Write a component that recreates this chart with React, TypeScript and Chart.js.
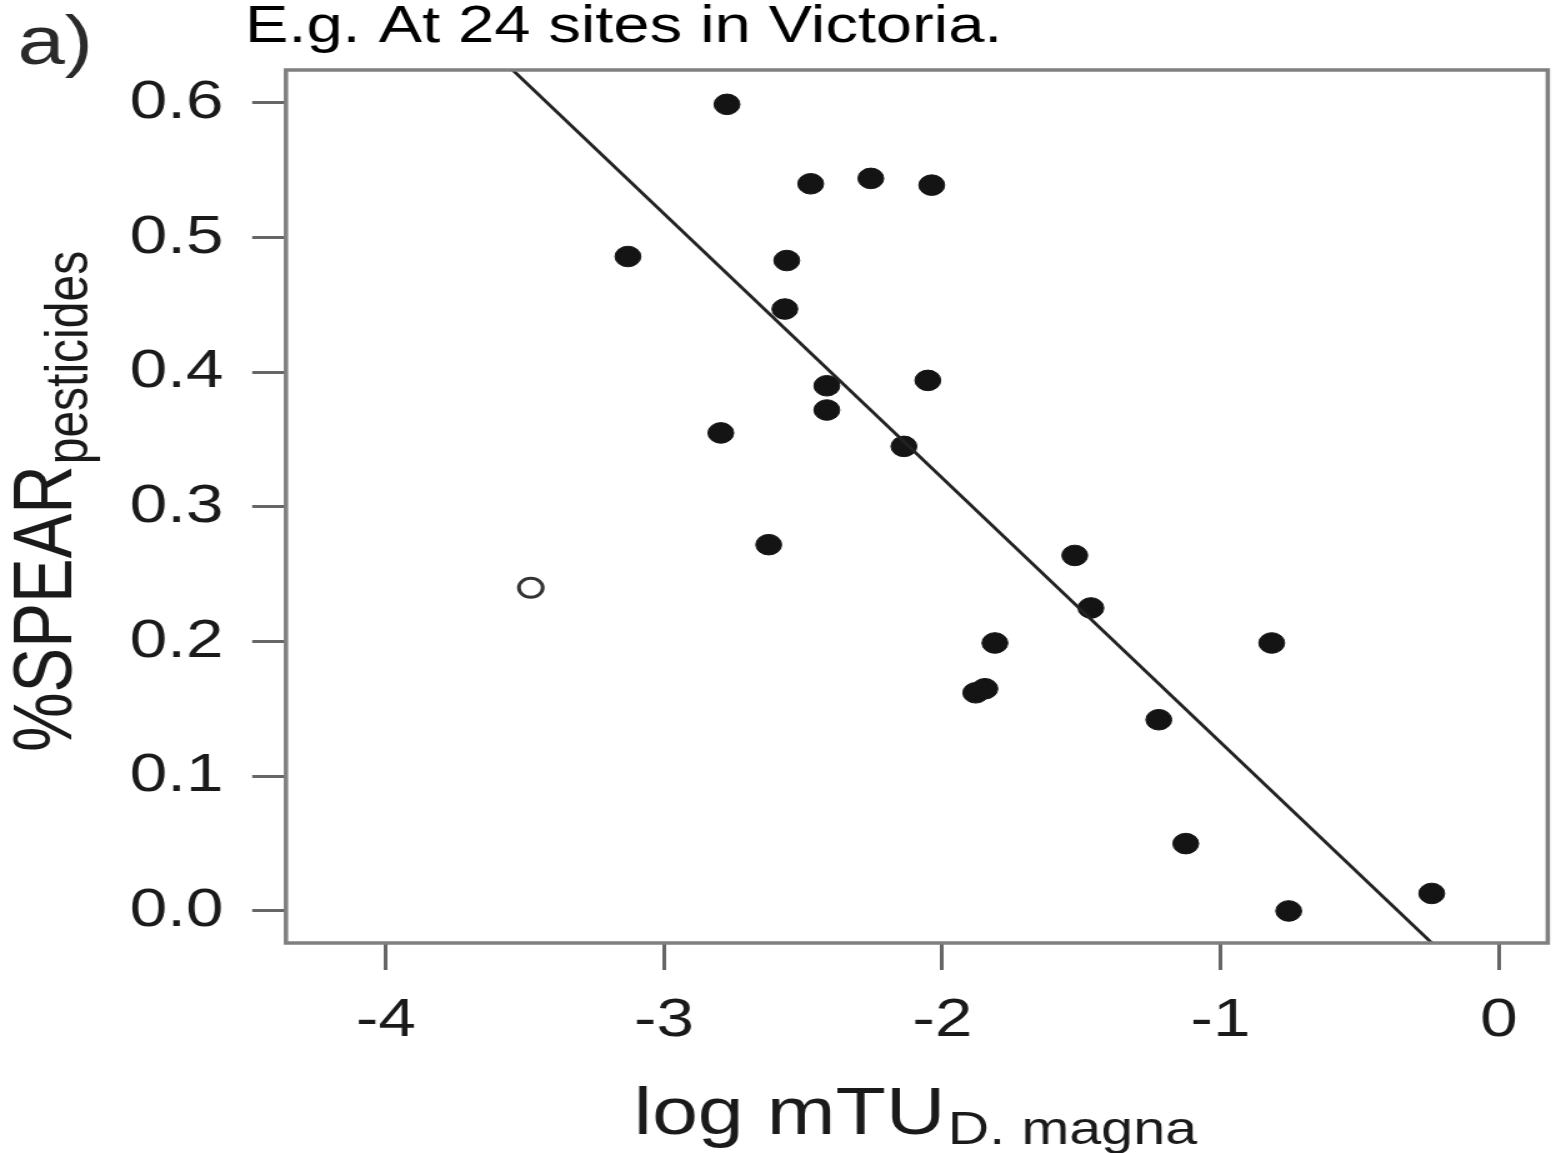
import React, { useEffect, useRef } from "react";
import { Chart, registerables } from "chart.js";

Chart.register(...registerables);

// Horizontal stretch of the original figure
const STRETCH = 1.25;
const CSS_W = 1556;
const CSS_H = 1153;
const W = Math.round(CSS_W / STRETCH);
const H = CSS_H;

// Sites (filled points)
const siteX = [
  -2.774, -3.13, -2.473, -2.257, -2.038, -2.559, -2.566, -2.415, -2.415, -2.052,
  -2.796, -2.138, -2.624, -1.524, -1.466, -1.811, -1.88, -1.847, -0.816, -1.222,
  -1.125, -0.755, -0.241,
];
const siteY = [
  0.599, 0.486, 0.54, 0.544, 0.539, 0.483, 0.447, 0.39, 0.372, 0.394,
  0.355, 0.345, 0.272, 0.264, 0.225, 0.199, 0.162, 0.165, 0.199, 0.142,
  0.05, 0.0, 0.013,
];
// Excluded site (open point)
const outlierX = [-3.479];
const outlierY = [0.24];
// Regression line end points
const fitX = [-3.544, -0.241];
const fitY = [0.6245, -0.0238];

const xTicks = [-4, -3, -2, -1, 0];
const xTickLabels = ["-4", "-3", "-2", "-1", "0"];
const yTicks = [0, 0.1, 0.2, 0.3, 0.4, 0.5, 0.6];
const yTickLabels = ["0.0", "0.1", "0.2", "0.3", "0.4", "0.5", "0.6"];

const X_MIN = -4.359;
const X_MAX = 0.176;
const Y_MIN = -0.0238;
const Y_MAX = 0.6245;

const FONT = '"Liberation Sans", Arial, Helvetica, sans-serif';

const textPlugin = {
  id: "figureText",
  afterDraw(chart: any) {
    const ctx: CanvasRenderingContext2D = chart.ctx;
    const ca = chart.chartArea;
    ctx.save();
    // box
    ctx.strokeStyle = "#808080";
    ctx.lineWidth = 3.5;
    ctx.strokeRect(ca.left, ca.top, ca.right - ca.left, ca.bottom - ca.top);

    ctx.textBaseline = "alphabetic";
    ctx.textAlign = "left";
    // title
    ctx.fillStyle = "#000";
    ctx.font = `52px ${FONT}`;
    ctx.fillText("E.g. At 24 sites in Victoria.", 196, 42);
    // panel label
    ctx.fillStyle = "#2a2a2a";
    ctx.font = `68px ${FONT}`;
    ctx.fillText("a)", 14, 64);

    // x axis title
    ctx.fillStyle = "#1a1a1a";
    ctx.font = `66px ${FONT}`;
    const main = "log mTU";
    const mx = 507;
    ctx.fillText(main, mx, 1134);
    const mw = ctx.measureText(main).width;
    ctx.font = `46px ${FONT}`;
    ctx.fillText("D. magna", mx + mw + 2, 1144);

    // y axis title
    ctx.save();
    ctx.translate(57, 752);
    ctx.rotate(-Math.PI / 2);
    ctx.font = `67px ${FONT}`;
    const ym = "%SPEAR";
    ctx.fillText(ym, 0, 0);
    const yw = ctx.measureText(ym).width;
    ctx.font = `48px ${FONT}`;
    ctx.fillText("pesticides", yw + 1, 13);
    ctx.restore();

    ctx.restore();
  },
};

export default function App() {
  const ref = useRef<HTMLCanvasElement | null>(null);

  useEffect(() => {
    if (!ref.current) return;
    const chart = new Chart(ref.current, {
      type: "scatter",
      data: {
        datasets: [
          {
            type: "line",
            data: fitX.map((x, i) => ({ x, y: fitY[i] })),
            borderColor: "#222",
            borderWidth: 2.8,
            pointRadius: 0,
            fill: false,
          } as any,
          {
            data: siteX.map((x, i) => ({ x, y: siteY[i] })),
            backgroundColor: "#141414",
            borderColor: "#141414",
            borderWidth: 1,
            pointRadius: 10.3,
          },
          {
            data: outlierX.map((x, i) => ({ x, y: outlierY[i] })),
            backgroundColor: "rgba(255,255,255,0)",
            borderColor: "#333",
            borderWidth: 3,
            pointRadius: 9.5,
          },
        ],
      },
      options: {
        responsive: false,
        animation: false,
        devicePixelRatio: 1,
        layout: {
          autoPadding: false,
          padding: { left: 0, right: W - 1548 / STRETCH, top: 70, bottom: 0 },
        },
        plugins: {
          legend: { display: false },
          tooltip: { enabled: false },
          title: { display: false },
        },
        scales: {
          x: {
            type: "linear",
            min: X_MIN,
            max: X_MAX,
            afterFit: (s: any) => {
              s.height = H - 943;
            },
            afterBuildTicks: (s: any) => {
              s.ticks = xTicks.map((v) => ({ value: v }));
            },
            ticks: {
              callback: (v: any) => xTickLabels[xTicks.indexOf(Number(v))] ?? "",
              font: { family: FONT, size: 54 },
              color: "#1a1a1a",
              padding: 19,
              maxRotation: 0,
              autoSkip: false,
            },
            grid: {
              drawOnChartArea: false,
              drawTicks: true,
              tickLength: 27,
              color: "#666",
              lineWidth: 3,
            },
            border: { display: false },
          },
          y: {
            type: "linear",
            min: Y_MIN,
            max: Y_MAX,
            afterFit: (s: any) => {
              s.width = 286 / STRETCH;
            },
            afterBuildTicks: (s: any) => {
              s.ticks = yTicks.map((v) => ({ value: v }));
            },
            ticks: {
              callback: (v: any) => {
                const i = yTicks.findIndex((t) => Math.abs(t - Number(v)) < 1e-9);
                return i >= 0 ? yTickLabels[i] : "";
              },
              font: { family: FONT, size: 54 },
              color: "#1a1a1a",
              padding: 23,
              autoSkip: false,
            },
            grid: {
              drawOnChartArea: false,
              drawTicks: true,
              tickLength: 27,
              color: "#666",
              lineWidth: 3,
            },
            border: { display: false },
          },
        },
      },
      plugins: [textPlugin],
    } as any);
    return () => chart.destroy();
  }, []);

  return (
    <canvas
      ref={ref}
      width={W}
      height={H}
      style={{
        position: "absolute",
        left: 0,
        top: 0,
        width: `${CSS_W}px`,
        height: `${CSS_H}px`,
      }}
    />
  );
}
